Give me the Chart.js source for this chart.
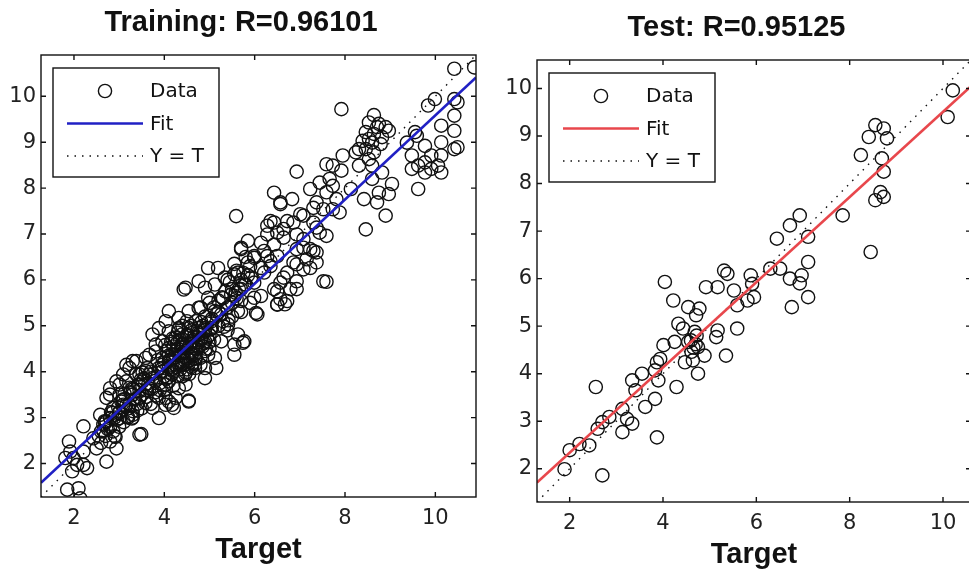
<!DOCTYPE html>
<html>
<head>
<meta charset="utf-8">
<title>Regression: Training / Test</title>
<script src="https://cdn.jsdelivr.net/npm/chart.js@4.4.0/dist/chart.umd.min.js"></script>
<style>
    html, body { margin: 0; padding: 0; background: #fff; overflow: hidden; }
    #wrap { position: relative; width: 969px; height: 571px; overflow: hidden; }
    #train { position: absolute; left: 0; top: 0; }
    #test { position: absolute; left: 496px; top: 5px; }
</style>
</head>
<body>
<div id="wrap">
    <canvas id="train" width="484" height="571"></canvas>
    <canvas id="test" width="483" height="571"></canvas>
</div>
<script>
// ---- data ----
const trainTarget = [
    10.42, 10.86, 7.92, 8.64,
    9.84, 9.99, 10.42, 10.49, 10.42, 10.13, 10.42, 9.55, 9.77, 10.13, 10.42, 10.49, 9.48, 9.91, 10.13, 9.62,
    9.77, 9.91, 10.13, 9.62, 9.48, 10.06, 9.77, 9.37, 9.59,
    8.53, 8.75, 8.97, 8.46, 8.64, 8.82, 8.39, 8.6, 8.79, 8.46, 8.64, 8.53, 8.31, 8.6, 8.9, 8.71, 8.53,
    8.82, 9.04, 8.6, 8.42, 8.75, 8.97, 8.71, 8.9, 8.46, 8.31, 8.24,
    6.93, 7.59, 7.73, 7.95, 7.92, 7.44, 7.23, 7.66, 7.59, 7.73, 7.81, 7.37, 8.13, 7.52, 7.73, 7.88,
    6.43, 6.83, 6.57, 7.08, 6.43, 6.28, 6.64, 6.86, 6.5, 7.3, 7.44, 7.59, 7.08, 6.93, 7.23, 7.37,
    7.15, 6.86, 7.08, 6.72, 6.5, 6.28, 6.35, 6.57, 6.79, 6.43, 6.57, 6.93, 7.37, 7.59, 6.14, 5.99,
    5.85, 5.7, 5.63, 5.7, 5.56, 5.99, 6.21, 6.14, 5.59,
    6.57, 5.7, 5.99, 4.97, 5.19, 4.43, 4.76, 4.9, 5.12, 5.34, 5.55, 5.77, 5.92, 6.14, 6.35, 6.21,
    6.43, 6.64, 6.93, 7.08, 7.3, 6.93, 7.23, 6.64, 6.93, 6.5, 6.72, 6.5, 7.52, 6.35, 6.72, 7.01,
    7.3, 7.37, 6.28, 5.85, 5.99, 6.06, 5.7, 5.63, 5.48, 5.41, 5.63, 5.55, 5.77, 5.55, 5.26, 5.12,
    5.15, 4.9, 4.54, 4.1, 4.21, 3.88, 4.97, 4.76, 4.54, 4.32, 4.1, 4.03, 3.88, 3.74, 3.96, 3.81,
    3.59, 3.38, 3.23, 3.09, 2.94, 2.8, 2.72, 3.01, 3.3, 3.52, 3.67, 3.88, 4.1, 4.25, 4.39, 4.61,
    4.76, 4.9, 5.05, 5.26, 4.39, 4.54, 4.25, 4.61, 4.76, 4.9, 4.39, 4.17, 4.46, 4.68, 4.97, 4.03,
    4.32, 3.67, 3.45, 3.23, 3.01, 2.8, 3.3, 4.03, 3.74, 4.9, 4.1, 3.96, 4.32, 4.1, 3.45, 3.16,
    1.85, 2.1, 2.14, 1.89, 1.92, 1.81, 1.99, 2.07, 1.96, 2.21, 2.29, 2.21, 2.21, 2.43, 2.5, 2.65,
    2.58, 2.72, 2.8, 2.72, 2.87, 2.94, 3.01, 2.8, 2.87, 3.09, 3.01, 3.16, 3.3, 3.38, 3.23, 3.45,
    3.45, 3.3, 3.45, 3.59, 3.67, 3.81, 4.03, 4.17, 4.25, 3.88, 4.54, 4.47, 4.39, 4.68, 4.1, 4.17,
    4.39, 4.68, 4.83, 3.96, 3.74, 3.49, 5.74, 4.47, 6.03, 6.5, 6.67,
    4.2, 4.3, 4.4, 4.5, 4.6, 4.7, 4.8, 4.9, 5.0, 4.5, 4.6, 4.4, 4.3, 4.2, 4.1, 4.0,
    4.0, 4.2, 4.4, 4.6, 4.8, 5.0, 5.1, 5.2, 4.9, 4.7, 4.5, 4.8, 5.0, 5.2, 5.3, 5.4,
    5.5, 5.6, 5.7, 5.8, 5.9, 5.4, 5.6, 5.8, 5.3, 5.4, 5.5, 5.7, 5.9, 3.8, 3.9, 3.7,
    3.6, 3.5, 3.4, 3.3, 3.2, 3.1, 3.0, 2.9, 2.8, 2.7, 2.6, 2.7, 2.9, 3.1, 3.3, 3.5,
    3.7, 4.6, 4.45, 4.35, 4.75, 4.05, 4.15, 3.95, 4.85, 5.05, 4.55,
    4.05, 4.15, 4.25, 4.35, 4.45, 4.55, 4.65, 4.75, 4.85, 4.95, 4.25, 4.35, 4.45, 4.55, 4.65, 4.75,
    4.85, 4.95, 5.05, 5.15, 4.1, 4.2, 4.3, 4.4, 4.5, 4.6, 4.7, 4.8, 4.9, 5.0, 3.9, 3.95,
    3.85, 3.75, 3.65, 3.55, 3.45, 3.35, 3.25, 3.15, 3.05, 2.95, 2.85, 2.75, 2.65, 2.55, 2.6, 3.0,
    3.2, 3.4, 3.6, 3.8, 4.0, 4.3, 4.5, 5.1, 5.2, 5.35, 5.5, 5.65, 5.45, 5.75, 5.55, 5.85,
    4.12, 4.28, 4.42, 4.58, 4.72, 4.88, 5.02, 4.18, 4.38, 4.62, 4.82, 4.48, 4.68, 4.32, 4.08, 4.92,
    3.32, 3.48, 3.62, 3.18, 3.08, 3.42, 3.58, 2.98, 3.28, 3.72, 2.68, 2.82, 2.92, 3.12, 3.52, 3.82,
    5.28, 5.42, 5.58, 5.12, 5.32, 4.52, 4.28, 4.02
];
const trainOutput = [
    10.6, 10.63, 9.72, 9.59,
    9.8, 9.94, 9.94, 9.87, 9.58, 9.36, 9.25, 9.22, 8.92, 9.0, 8.85, 8.89, 8.71, 8.71, 8.71, 8.49,
    8.56, 8.42, 8.34, 7.98, 8.42, 8.49, 8.34, 8.99, 9.14,
    9.43, 9.4, 9.25, 9.22, 9.18, 9.11, 9.03, 8.99, 8.96, 8.85, 8.78, 8.63, 8.49, 8.49, 9.33, 9.33, 9.07,
    8.34, 8.09, 8.2, 7.76, 7.9, 7.87, 7.69, 7.4, 7.1, 8.85, 8.78,
    8.36, 8.52, 8.49, 8.71, 8.38, 8.12, 7.98, 8.2, 7.91, 8.05, 7.76, 7.69, 7.98, 7.54, 7.54, 7.47,
    7.9, 7.76, 7.69, 7.4, 7.25, 7.18, 7.11, 7.25, 7.03, 7.25, 7.03, 6.96, 6.89, 6.67, 6.67, 6.6,
    6.45, 6.38, 6.23, 6.16, 6.52, 6.52, 6.3, 5.94, 5.8, 5.8, 5.58, 5.8, 6.38, 5.96, 6.81, 6.52,
    6.38, 6.67, 6.16, 5.8, 5.65, 5.94, 6.16, 5.65, 7.39,
    7.65, 6.7, 6.48, 6.26, 6.26, 5.79, 5.97, 5.83, 5.9, 6.05, 6.12, 5.9, 6.05, 6.26, 6.41, 6.63,
    6.77, 6.92, 6.99, 6.7, 6.63, 6.34, 6.26, 6.05, 5.97, 5.75, 5.54, 5.46, 5.97, 7.28, 7.28, 7.43,
    7.57, 7.14, 6.99, 6.85, 5.61, 5.25, 5.54, 5.32, 5.68, 5.03, 4.81, 4.59, 4.66, 4.37, 4.66, 4.3,
    4.08, 3.86, 3.35, 3.35, 3.21, 2.99, 5.61, 5.39, 5.32, 5.17, 5.32, 5.1, 4.95, 4.81, 4.66, 4.44,
    4.3, 4.23, 4.08, 3.94, 3.79, 3.64, 3.43, 3.5, 3.64, 3.79, 3.94, 4.08, 4.23, 4.37, 4.52, 4.66,
    4.81, 4.95, 5.1, 5.25, 4.81, 4.95, 4.74, 4.37, 4.52, 4.66, 4.23, 3.94, 3.94, 4.16, 4.37, 3.72,
    3.64, 3.64, 3.43, 3.28, 3.13, 2.99, 3.06, 3.43, 3.21, 4.08, 4.52, 4.3, 4.95, 4.88, 3.94, 3.79,
    1.43, 1.46, 1.24, 2.48, 2.26, 2.12, 2.12, 1.97, 1.83, 1.97, 1.9, 2.26, 2.81, 2.55, 2.33, 2.7,
    3.06, 2.92, 2.48, 2.04, 2.7, 2.33, 2.99, 3.5, 3.21, 3.28, 3.72, 4.15, 4.23, 3.94, 3.65, 3.43,
    2.63, 3.14, 3.72, 4.01, 4.37, 4.59, 3.28, 3.28, 3.43, 3.43, 3.37, 3.72, 4.15, 4.08, 3.79, 4.37,
    4.59, 4.52, 4.74, 4.08, 3.86, 2.64, 4.63, 5.83, 5.28, 5.47, 5.47,
    4.0, 4.2, 4.4, 4.3, 4.6, 4.5, 4.7, 4.9, 4.8, 4.8, 5.0, 4.6, 4.5, 4.3, 4.1, 4.2,
    3.9, 3.7, 3.9, 4.1, 4.3, 4.5, 4.7, 5.0, 5.2, 5.1, 5.1, 5.4, 5.5, 5.3, 5.6, 5.4,
    5.8, 5.6, 6.0, 5.9, 6.3, 6.0, 6.2, 6.5, 5.1, 4.9, 5.2, 5.3, 5.5, 3.8, 3.6, 4.0,
    3.6, 3.5, 3.3, 3.5, 3.2, 3.4, 3.1, 3.0, 2.8, 2.6, 2.7, 2.9, 2.6, 2.9, 3.0, 3.2,
    3.3, 4.4, 4.25, 4.7, 4.85, 4.45, 4.65, 4.0, 5.0, 5.15, 3.95,
    3.85, 4.05, 4.15, 4.05, 4.45, 4.55, 4.35, 4.65, 4.55, 4.75, 4.45, 4.35, 4.15, 4.25, 4.75, 4.95,
    4.85, 5.05, 4.95, 5.25, 4.35, 4.55, 4.85, 5.0, 4.6, 4.9, 4.3, 4.15, 4.45, 4.65, 3.75, 4.15,
    4.25, 3.95, 3.75, 3.85, 3.6, 3.4, 3.55, 3.25, 3.35, 2.95, 3.1, 2.75, 2.85, 2.6, 2.45, 2.8,
    3.0, 3.15, 3.45, 3.55, 3.6, 3.9, 4.05, 5.4, 5.55, 5.75, 5.5, 5.8, 5.95, 6.15, 6.35, 6.1,
    4.25, 4.1, 4.62, 4.42, 4.88, 4.62, 4.92, 4.72, 4.58, 4.18, 5.08, 3.98, 4.28, 4.92, 3.88, 4.5,
    3.62, 3.82, 4.08, 3.02, 3.38, 3.72, 3.32, 3.22, 2.98, 3.62, 2.92, 3.12, 2.58, 3.52, 3.98, 3.48,
    5.62, 5.12, 5.72, 5.32, 4.98, 4.78, 4.62, 4.58
];
const testTarget = [
    10.21, 10.1, 8.55, 8.73, 8.41, 8.8, 8.24, 8.69, 8.73, 8.66, 8.55, 8.73, 7.85, 8.45, 6.93, 6.72,
    6.44, 7.11, 7.11, 6.3, 6.51, 6.72, 6.97, 6.93, 5.88, 5.91, 5.31, 5.38, 5.17, 4.92, 4.04, 5.52,
    4.22, 5.59, 5.81, 5.95, 6.76, 7.11, 4.54, 4.78, 4.71, 4.33, 4.43, 4.68, 5.17, 5.14, 5.59, 4.25,
    4.01, 4.54, 4.75, 4.61, 4.89, 5.35, 4.47, 4.64, 4.75, 3.94, 3.87, 3.83, 3.9, 3.55, 3.34, 4.29,
    3.83, 3.62, 3.41, 3.13, 3.23, 3.34, 3.13, 2.85, 2.7, 2.6, 2.56, 3.87, 2.42, 2.21, 2.0, 1.89,
    2.7, 4.6, 4.65, 4.7, 4.72
];
const testOutput = [
    9.96, 9.4, 9.23, 9.16, 8.98, 8.95, 8.6, 8.53, 8.25, 7.82, 7.65, 7.72, 7.33, 6.56, 7.33, 7.12,
    6.84, 6.88, 6.35, 6.21, 6.21, 6.0, 6.07, 5.9, 6.07, 5.89, 6.17, 6.1, 5.82, 5.82, 5.93, 5.75,
    5.54, 5.44, 5.54, 5.61, 5.4, 5.61, 5.4, 5.37, 5.23, 5.05, 4.95, 4.88, 4.91, 4.77, 4.95, 4.67,
    4.6, 4.67, 4.56, 4.46, 4.38, 4.38, 4.24, 4.28, 4.0, 4.31, 4.24, 4.07, 3.86, 4.0, 3.86, 3.72,
    3.47, 3.3, 3.65, 3.26, 3.05, 2.95, 2.77, 3.09, 2.98, 2.84, 3.72, 2.66, 2.49, 2.52, 2.39, 1.99,
    1.86, 4.7, 4.55, 4.62, 4.8
];

// axis limits and line end points
const trainRange = [1.27, 10.9];
const testRange = [1.3, 10.6];
const trainFitY = [1.58, 10.41];
const testFitY = [1.71, 10.05];
const xTickValues = [2, 4, 6, 8, 10];
const yTickValues = [2, 3, 4, 5, 6, 7, 8, 9, 10];

const toPoints = (xs, ys) => xs.map((x, i) => ({x: x, y: ys[i]}));

// box around the plot with inward ticks on all sides
const framePlugin = {
    id: 'frame',
    afterDatasetsDraw(chart) {
        const {ctx, chartArea: a, scales} = chart;
        const len = 5;
        ctx.save();
        ctx.strokeStyle = '#111';
        ctx.lineWidth = 1.4;
        ctx.strokeRect(a.left, a.top, a.right - a.left, a.bottom - a.top);
        ctx.beginPath();
        xTickValues.forEach(v => {
            const px = scales.x.getPixelForValue(v);
            ctx.moveTo(px, a.bottom); ctx.lineTo(px, a.bottom - len);
            ctx.moveTo(px, a.top); ctx.lineTo(px, a.top + len);
        });
        yTickValues.forEach(v => {
            const py = scales.y.getPixelForValue(v);
            ctx.moveTo(a.left, py); ctx.lineTo(a.left + len, py);
            ctx.moveTo(a.right, py); ctx.lineTo(a.right - len, py);
        });
        ctx.stroke();
        ctx.restore();
    }
};

// MATLAB style legend box in the upper left corner
const boxLegendPlugin = {
    id: 'boxLegend',
    afterDraw(chart) {
        const {ctx, chartArea: a} = chart;
        const x0 = a.left + 12, y0 = a.top + 13, w = 166, h = 109;
        ctx.save();
        ctx.fillStyle = '#fff';
        ctx.fillRect(x0, y0, w, h);
        ctx.strokeStyle = '#111';
        ctx.lineWidth = 1.4;
        ctx.strokeRect(x0, y0, w, h);
        ctx.font = '20px "DejaVu Sans"';
        ctx.textBaseline = 'middle';
        ctx.fillStyle = '#111';
        chart.data.datasets.forEach((ds, i) => {
            const cy = y0 + 23 + i * 32.5;
            if (ds.showLine) {
                ctx.beginPath();
                ctx.strokeStyle = ds.borderColor;
                ctx.lineWidth = ds.borderWidth;
                ctx.setLineDash(ds.borderDash || []);
                ctx.moveTo(x0 + 14, cy); ctx.lineTo(x0 + 90, cy);
                ctx.stroke();
                ctx.setLineDash([]);
            } else {
                ctx.beginPath();
                ctx.strokeStyle = ds.pointBorderColor;
                ctx.lineWidth = ds.pointBorderWidth;
                ctx.arc(x0 + 52, cy, ds.pointRadius, 0, Math.PI * 2);
                ctx.stroke();
            }
            ctx.fillText(ds.label, x0 + 97, cy + 1);
        });
        ctx.restore();
    }
};

function makeChart(id, title, target, output, range, fitY, fitColor) {
    const axis = (isX) => ({
        type: 'linear',
        min: range[0],
        max: range[1],
        grid: { display: false, drawTicks: false },
        border: { display: false },
        ticks: {
            stepSize: isX ? 2 : 1,
            includeBounds: false,
            padding: isX ? 9 : 5,
            color: '#222',
            font: { family: 'DejaVu Sans', size: 21 }
        },
        title: isX ? {
            display: true,
            text: 'Target',
            color: '#111',
            font: { family: 'Liberation Sans', size: 29, weight: 'bold' },
            padding: { top: 0, bottom: 4 }
        } : { display: false },
        afterFit: isX ? (s) => { s.height = 74; } : (s) => { s.width = 41; }
    });

    return new Chart(document.getElementById(id), {
        type: 'scatter',
        data: {
            datasets: [
                {
                    label: 'Data',
                    data: toPoints(target, output),
                    pointRadius: 6.6,
                    pointBorderWidth: 1.4,
                    pointBorderColor: '#111',
                    pointBackgroundColor: 'rgba(0,0,0,0)',
                    order: 1
                },
                {
                    label: 'Fit',
                    data: toPoints(range, fitY),
                    showLine: true,
                    borderColor: fitColor,
                    borderWidth: 2.6,
                    pointRadius: 0,
                    order: 0
                },
                {
                    label: 'Y = T',
                    data: toPoints(range, range),
                    showLine: true,
                    borderColor: '#111',
                    borderWidth: 1.4,
                    borderDash: [1.5, 6],
                    pointRadius: 0,
                    order: 2
                }
            ]
        },
        options: {
            responsive: false,
            animation: false,
            layout: { padding: { left: 0, right: 2, top: 0, bottom: 0 } },
            scales: { x: axis(true), y: axis(false) },
            plugins: {
                legend: { display: false },
                tooltip: { enabled: false },
                title: {
                    display: true,
                    text: title,
                    color: '#111',
                    font: { family: 'Liberation Sans', size: 29, weight: 'bold' },
                    padding: { top: 6, bottom: 14.2 }
                }
            }
        },
        plugins: [framePlugin, boxLegendPlugin]
    });
}

makeChart('train', 'Training: R=0.96101', trainTarget, trainOutput, trainRange, trainFitY, '#2020c4');
makeChart('test', 'Test: R=0.95125', testTarget, testOutput, testRange, testFitY, '#e8474c');
</script>
</body>
</html>
